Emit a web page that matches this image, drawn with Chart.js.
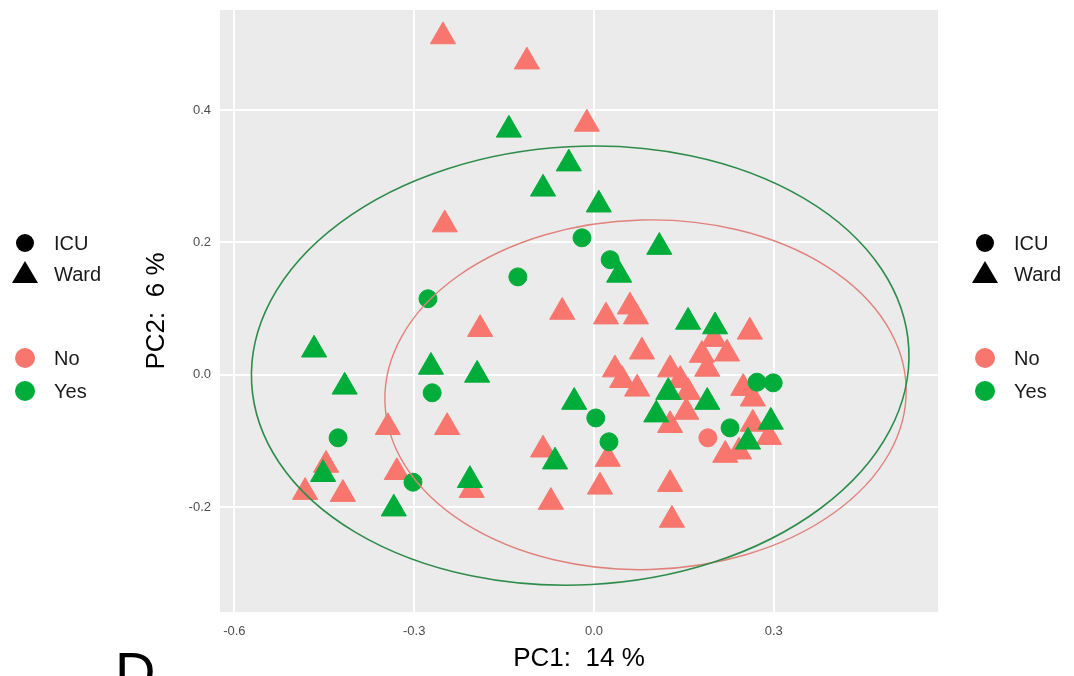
<!DOCTYPE html>
<html>
<head>
<meta charset="utf-8">
<title>PCA</title>
<script src="https://cdn.jsdelivr.net/npm/chart.js@4.4.1/dist/chart.umd.min.js"></script>
<style>
  html, body { margin: 0; padding: 0; background: #fff; overflow: hidden; }
  #wrap { position: relative; width: 1074px; height: 676px; overflow: hidden; }
  #pca { position: absolute; left: 0; top: 0; }
  .key { font-family: "Liberation Sans", Arial, sans-serif; font-size: 20px; color: #1a1a1a; }
  .mark { position: absolute; }
  .dot { border-radius: 50%; }
  .tri { clip-path: polygon(50% 0, 100% 100%, 0 100%); }
  .lbl { position: absolute; line-height: 24px; white-space: nowrap; }
  #tag { position: absolute; left: 115px; top: 644px; font: 56px/1 "Liberation Sans", Arial, sans-serif; color: #000; }
</style>
</head>
<body>
<div id="wrap">
  <canvas id="pca" width="1074" height="676"></canvas>
  <div id="tag">D</div>
</div>
<script>
const FONT = '"Liberation Sans", Arial, sans-serif';
const RED = '#F8766D';
const GREEN = '#00AD3A';

// axis ticks
const pc1Ticks = [-0.6, -0.3, 0.0, 0.3];
const pc2Ticks = [-0.2, 0.0, 0.2, 0.4];

// No / Ward (triangles)
const noWardPC1 = [-0.252, -0.112, -0.012, -0.249, -0.053, 0.020, 0.060, 0.070, -0.190, 0.260,
                   0.080, 0.200, 0.180, 0.222, 0.189, 0.035, 0.047, 0.072, 0.127, 0.144,
                   0.157, 0.249, 0.265, 0.127, 0.154, -0.344, -0.245, 0.265, 0.292, 0.219,
                   0.242, -0.085, 0.023, -0.447, -0.329, -0.204, 0.010, 0.127, -0.482, -0.419,
                   -0.072, 0.130];
const noWardPC2 = [0.511, 0.473, 0.379, 0.227, 0.095, 0.088, 0.103, 0.088, 0.069, 0.065,
                   0.035, 0.054, 0.030, 0.032, 0.009, 0.008, -0.008, -0.021, 0.008, -0.008,
                   -0.026, -0.020, -0.036, -0.076, -0.056, -0.079, -0.079, -0.074, -0.094, -0.121,
                   -0.116, -0.113, -0.127, -0.136, -0.147, -0.174, -0.169, -0.165, -0.177, -0.180,
                   -0.192, -0.219];

// No / ICU (circles)
const noIcuPC1 = [0.190];
const noIcuPC2 = [-0.095];

// Yes / Ward (triangles)
const yesWardPC1 = [-0.142, -0.042, -0.085, 0.008, 0.109, 0.042, 0.157, 0.202, -0.467, -0.272,
                    -0.195, -0.416, 0.124, 0.189, -0.033, 0.104, 0.295, 0.257, -0.065, -0.452,
                    -0.207, -0.334];
const yesWardPC2 = [0.370, 0.319, 0.281, 0.257, 0.193, 0.151, 0.080, 0.073, 0.038, 0.012,
                    0.000, -0.018, -0.026, -0.041, -0.041, -0.060, -0.071, -0.101, -0.131, -0.150,
                    -0.159, -0.202];

// Yes / ICU (circles)
const yesIcuPC1 = [-0.020, 0.027, -0.127, -0.277, -0.270, 0.272, 0.299, 0.003, -0.427, 0.025, 0.227, -0.302];
const yesIcuPC2 = [0.207, 0.174, 0.148, 0.115, -0.027, -0.011, -0.012, -0.065, -0.095, -0.101, -0.080, -0.162];

// 95% ellipses per group (No, Yes)
const ellipseGroups = ['No', 'Yes'];
const ellipseCenterPC1 = [0.086, -0.023];
const ellipseCenterPC2 = [-0.030, 0.014];
const ellipseRadiusPC1 = [0.435, 0.549];
const ellipseRadiusPC2 = [0.264, 0.331];
const ellipseTiltDeg = [-1.5, -3.0];

const shapeLabels = ['ICU', 'Ward'];
const groupLabels = ['No', 'Yes'];

const toPoints = (xs, ys) => xs.map((x, i) => ({ x: x, y: ys[i] }));

const panelBackground = {
    id: 'panelBackground',
    beforeDraw(chart) {
        const { ctx, chartArea: a } = chart;
        ctx.save();
        ctx.fillStyle = '#EBEBEB';
        ctx.fillRect(a.left, a.top, a.width, a.height);
        ctx.restore();
    }
};

const groupEllipses = {
    id: 'groupEllipses',
    afterDatasetsDraw(chart) {
        const { ctx } = chart;
        const xs = chart.scales.x, ys = chart.scales.y;
        const strokes = [{ color: '#E0817A', width: 1.4 }, { color: '#2E8C4A', width: 1.6 }];
        ellipseGroups.forEach((g, i) => {
            const cx = xs.getPixelForValue(ellipseCenterPC1[i]);
            const cy = ys.getPixelForValue(ellipseCenterPC2[i]);
            const rx = Math.abs(xs.getPixelForValue(ellipseCenterPC1[i] + ellipseRadiusPC1[i]) - cx);
            const ry = Math.abs(ys.getPixelForValue(ellipseCenterPC2[i] + ellipseRadiusPC2[i]) - cy);
            ctx.save();
            ctx.beginPath();
            ctx.ellipse(cx, cy, rx, ry, ellipseTiltDeg[i] * Math.PI / 180, 0, Math.PI * 2);
            ctx.strokeStyle = strokes[i].color;
            ctx.lineWidth = strokes[i].width;
            ctx.stroke();
            ctx.restore();
        });
    }
};

const ctx = document.getElementById('pca').getContext('2d');
new Chart(ctx, {
    type: 'scatter',
    data: {
        datasets: [
            { label: 'Yes ICU', data: toPoints(yesIcuPC1, yesIcuPC2), pointStyle: 'circle', pointRadius: 9,
              backgroundColor: GREEN, borderColor: GREEN, borderWidth: 1, order: 0 },
            { label: 'Yes Ward', data: toPoints(yesWardPC1, yesWardPC2), pointStyle: 'triangle', pointRadius: 14.5,
              backgroundColor: GREEN, borderColor: GREEN, borderWidth: 1, order: 1 },
            { label: 'No ICU', data: toPoints(noIcuPC1, noIcuPC2), pointStyle: 'circle', pointRadius: 9,
              backgroundColor: RED, borderColor: RED, borderWidth: 1, order: 2 },
            { label: 'No Ward', data: toPoints(noWardPC1, noWardPC2), pointStyle: 'triangle', pointRadius: 14.5,
              backgroundColor: RED, borderColor: RED, borderWidth: 1, order: 3 }
        ]
    },
    options: {
        responsive: false,
        devicePixelRatio: 1,
        animation: false,
        layout: { autoPadding: false, padding: { left: 141, right: 136, top: 10, bottom: 0 } },
        plugins: {
            legend: { display: false },
            tooltip: { enabled: false }
        },
        scales: {
            x: {
                type: 'linear',
                min: -0.624,
                max: 0.574,
                afterBuildTicks: (s) => { s.ticks = pc1Ticks.map(v => ({ value: v })); },
                afterFit: (s) => { s.height = 64; s.paddingLeft = 0; s.paddingRight = 0; },
                grid: { color: '#FFFFFF', lineWidth: 2, drawTicks: false },
                border: { display: false },
                ticks: { padding: 12, color: '#4D4D4D', font: { size: 13, family: FONT },
                         callback: (v) => Number(v).toFixed(1) },
                title: { display: true, text: 'PC1:  14 %', color: '#000', font: { size: 26, family: FONT },
                         padding: { top: 0, bottom: 2 } }
            },
            y: {
                type: 'linear',
                min: -0.358,
                max: 0.551,
                afterBuildTicks: (s) => { s.ticks = pc2Ticks.map(v => ({ value: v })); },
                afterFit: (s) => { s.width = 79; s.paddingTop = 0; s.paddingBottom = 0; },
                grid: { color: '#FFFFFF', lineWidth: 2, drawTicks: false },
                border: { display: false },
                ticks: { padding: 9, color: '#4D4D4D', font: { size: 13, family: FONT },
                         callback: (v) => Number(v).toFixed(1) },
                title: { display: true, text: 'PC2:  6 %', color: '#000', font: { size: 26, family: FONT },
                         padding: { top: 0, bottom: 0 } }
            }
        }
    },
    plugins: [panelBackground, groupEllipses]
});

// shape + colour keys, one copy on each side
const buildKey = (markX) => {
    const wrap = document.getElementById('wrap');
    const rows = [
        { text: shapeLabels[0], y: 243, cls: 'dot', w: 18, h: 18, color: '#000' },
        { text: shapeLabels[1], y: 274, cls: 'tri', w: 26, h: 22, color: '#000' },
        { text: groupLabels[0], y: 358, cls: 'dot', w: 20, h: 20, color: RED },
        { text: groupLabels[1], y: 391, cls: 'dot', w: 20, h: 20, color: GREEN }
    ];
    rows.forEach(r => {
        const m = document.createElement('div');
        m.className = 'mark ' + r.cls;
        m.style.left = (markX - r.w / 2) + 'px';
        m.style.top = (r.y - r.h / 2 - (r.cls === 'tri' ? 2 : 0)) + 'px';
        m.style.width = r.w + 'px';
        m.style.height = r.h + 'px';
        m.style.background = r.color;
        wrap.appendChild(m);
        const t = document.createElement('div');
        t.className = 'lbl key';
        t.textContent = r.text;
        t.style.left = (markX + 29) + 'px';
        t.style.top = (r.y - 12) + 'px';
        wrap.appendChild(t);
    });
};
buildKey(25);
buildKey(985);
</script>
</body>
</html>
